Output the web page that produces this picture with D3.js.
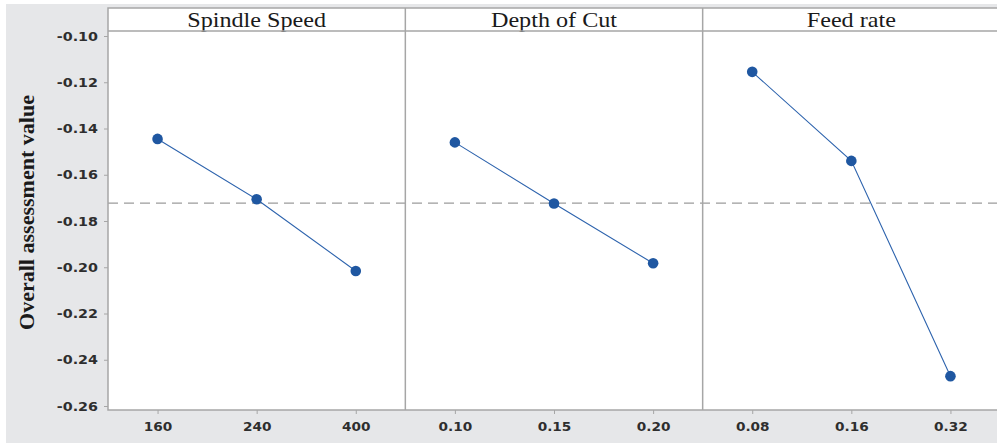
<!DOCTYPE html>
<html>
<head>
<meta charset="utf-8">
<script src="https://cdn.jsdelivr.net/npm/d3@7"></script>
<style>
  body { margin: 0; background: #fff; }
  svg { display: block; }
</style>
</head>
<body>
<div id="chart"></div>
<script>
// Main effects plot for overall assessment value

// data
const factors = ['Spindle Speed', 'Depth of Cut', 'Feed rate']
const levels = [
  ['160', '240', '400'],
  ['0.10', '0.15', '0.20'],
  ['0.08', '0.16', '0.32']
]
const spindleValues = [-0.1445, -0.1706, -0.2016]
const depthValues = [-0.1460, -0.1724, -0.1983]
const feedValues = [-0.1155, -0.1540, -0.2471]
const meanValue = -0.1723
const yTicks = [-0.10, -0.12, -0.14, -0.16, -0.18, -0.20, -0.22, -0.24, -0.26]
const yTitle = 'Overall assessment value'

const series = [spindleValues, depthValues, feedValues]

// layout
var width = 997
var height = 444
var margin = { top: 31, right: -3, bottom: 34, left: 108 }
var stripTop = 8
var plotW = width - margin.left - margin.right
var plotH = height - margin.top - margin.bottom
var panelW = plotW / factors.length

var frameColor = '#a6a6a6'
var blue = '#1f57a1'
var stretch = 1.15 // the source picture is a bit wide

var svg = d3.select('#chart')
  .append('svg')
  .attr('width', width)
  .attr('height', height)

// gray page background
svg.append('rect')
  .attr('x', 6).attr('y', 4)
  .attr('width', width - 6).attr('height', height - 5)
  .attr('fill', '#e6e7e9')

// y scale
const yScale = d3.scaleLinear()
  .domain([-0.10 + 5 / 46.25 * 0.02, -0.26 - 4 / 46.25 * 0.02])
  .range([margin.top, margin.top + plotH])

// white panels + strip
svg.append('rect')
  .attr('x', margin.left).attr('y', stripTop)
  .attr('width', plotW).attr('height', margin.top + plotH - stripTop)
  .attr('fill', '#fff')

function widen(sel, k) {
  sel.each(function () {
    var len = this.getComputedTextLength()
    d3.select(this)
      .attr('textLength', len * k)
      .attr('lengthAdjust', 'spacingAndGlyphs')
  })
}

// y axis
const yAxis = svg.append('g')
  .attr('transform', `translate(${margin.left},0)`)
  .call(d3.axisLeft(yScale).tickValues(yTicks).tickSize(4).tickPadding(6))
yAxis.select('.domain').remove()
yAxis.selectAll('line').attr('stroke', frameColor)
yAxis.selectAll('text')
  .attr('font-family', 'DejaVu Sans, sans-serif')
  .attr('font-size', 13)
  .attr('font-weight', 'bold')
  .attr('fill', '#2e2e2e')
  .text(d => d3.format('.2f')(d).replace('−', '-'))
  .call(widen, 1.1)

// y title
svg.append('text')
  .attr('transform', `translate(27,${margin.top + plotH / 2 - 8}) rotate(-90)`)
  .attr('text-anchor', 'middle')
  .attr('dy', '0.35em')
  .attr('font-family', 'Liberation Serif, Times New Roman, serif')
  .attr('font-weight', 'bold')
  .attr('font-size', 21)
  .attr('fill', '#1a1a1a')
  .attr('textLength', 235)
  .attr('lengthAdjust', 'spacingAndGlyphs')
  .text(yTitle)

// mean reference line
svg.append('line')
  .attr('x1', margin.left).attr('x2', margin.left + plotW)
  .attr('y1', yScale(meanValue)).attr('y2', yScale(meanValue))
  .attr('stroke', '#9c9c9c')
  .attr('stroke-width', 1.3)
  .attr('stroke-dasharray', '10,6')

factors.forEach((f, i) => {
  var x0 = margin.left + i * panelW
  var xScale = d3.scalePoint()
    .domain(levels[i])
    .range([x0, x0 + panelW])
    .padding(0.5)

  // strip title
  svg.append('text')
    .attr('x', x0 + panelW / 2)
    .attr('y', 27)
    .attr('text-anchor', 'middle')
    .attr('font-family', 'Liberation Serif, Times New Roman, serif')
    .attr('font-size', 21)
    .attr('fill', '#1a1a1a')
    .text(f)
    .call(widen, stretch)

  // x axis
  var xAxis = svg.append('g')
    .attr('transform', `translate(0,${margin.top + plotH})`)
    .call(d3.axisBottom(xScale).tickSize(4).tickPadding(8))
  xAxis.select('.domain').remove()
  xAxis.selectAll('line').attr('stroke', frameColor)
  xAxis.selectAll('text')
    .attr('font-family', 'DejaVu Sans, sans-serif')
    .attr('font-size', 13)
    .attr('font-weight', 'bold')
    .attr('fill', '#2e2e2e')
    .call(widen, 1.05)

  var pts = levels[i].map((l, j) => ({ level: l, value: series[i][j] }))

  svg.append('path')
    .datum(pts)
    .attr('fill', 'none')
    .attr('stroke', '#2d63ad')
    .attr('stroke-width', 1.1)
    .attr('d', d3.line().x(d => xScale(d.level)).y(d => yScale(d.value)))

  svg.selectAll('circle.p' + i)
    .data(pts)
    .enter()
    .append('circle')
    .attr('class', 'p' + i)
    .attr('cx', d => xScale(d.level))
    .attr('cy', d => yScale(d.value))
    .attr('r', 5.3)
    .attr('fill', blue)

  // panel divider
  if (i > 0) {
    svg.append('line')
      .attr('x1', x0).attr('x2', x0)
      .attr('y1', stripTop).attr('y2', margin.top + plotH)
      .attr('stroke', frameColor).attr('stroke-width', 1.5)
  }
})

// frame
svg.append('rect')
  .attr('x', margin.left).attr('y', stripTop)
  .attr('width', plotW).attr('height', margin.top + plotH - stripTop)
  .attr('fill', 'none')
  .attr('stroke', frameColor).attr('stroke-width', 1.5)
svg.append('line')
  .attr('x1', margin.left).attr('x2', margin.left + plotW)
  .attr('y1', margin.top).attr('y2', margin.top)
  .attr('stroke', frameColor).attr('stroke-width', 1.5)
</script>
</body>
</html>
